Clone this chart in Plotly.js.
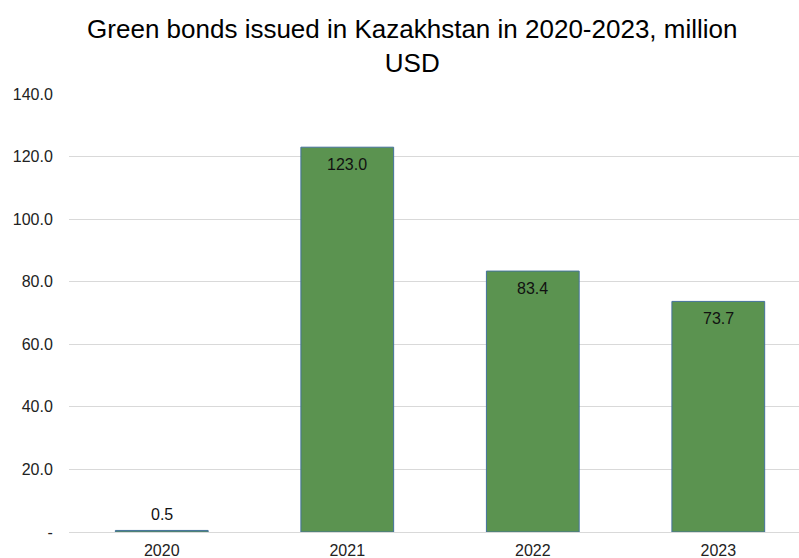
<!DOCTYPE html>
<html><head><meta charset="utf-8">
<script src="https://cdn.plot.ly/plotly-3.0.1.min.js"></script>
<style>html,body{margin:0;padding:0;background:#fff;}#chart{width:799px;height:558px;}</style>
</head><body><div id="chart"></div>
<script>
const years = ['2020', '2021', '2022', '2023'];
const bondValues = [0.5, 123.0, 83.4, 73.7];
const yTickVals = [0, 20, 40, 60, 80, 100, 120, 140];
const yTickText = ['-', '20.0', '40.0', '60.0', '80.0', '100.0', '120.0', '140.0'];

const font = 'Liberation Sans, Arial, Helvetica, sans-serif';
const trace = {
  type: 'bar',
  x: years,
  y: bondValues,
  marker: {color: '#5b9350', line: {color: '#44729c', width: 1}},
  hoverinfo: 'none'
};
const labels = years.map((yr, i) => {
  const v = bondValues[i];
  const inside = v >= 10;
  return {
    x: i, y: v, xref: 'x', yref: 'y',
    text: v.toFixed(1), showarrow: false,
    xanchor: 'center', yanchor: inside ? 'top' : 'bottom',
    yshift: inside ? -7 : 5,
    font: {family: font, size: 16, color: '#111'}
  };
});
const layout = {
  width: 799, height: 558,
  margin: {l: 69, r: 0, t: 94, b: 26},
  paper_bgcolor: '#fff', plot_bgcolor: '#fff',
  bargap: 0.5,
  showlegend: false,
  annotations: labels,
  title: {
    text: 'Green bonds issued in Kazakhstan in 2020-2023, million<br>USD',
    font: {family: font, size: 26, color: '#000'},
    x: 0.516, xanchor: 'center', y: 0.932, yanchor: 'top'
  },
  xaxis: {
    type: 'category',
    range: [-0.5, 3.435],
    showgrid: false, zeroline: false, showline: false,
    ticks: 'outside', ticklen: 4, tickcolor: 'rgba(0,0,0,0)',
    tickfont: {family: font, size: 16, color: '#222'},
    fixedrange: true
  },
  yaxis: {
    range: [0, 140],
    tickvals: yTickVals, ticktext: yTickText,
    showgrid: true, gridcolor: '#d9d9d9', gridwidth: 1,
    zeroline: true, zerolinecolor: '#d9d9d9', zerolinewidth: 1,
    showline: false,
    ticks: 'outside', ticklen: 12, tickcolor: 'rgba(0,0,0,0)',
    tickfont: {family: font, size: 16, color: '#222'},
    fixedrange: true
  }
};
Plotly.newPlot('chart', [trace], layout, {displayModeBar: false, staticPlot: true});
</script></body></html>
